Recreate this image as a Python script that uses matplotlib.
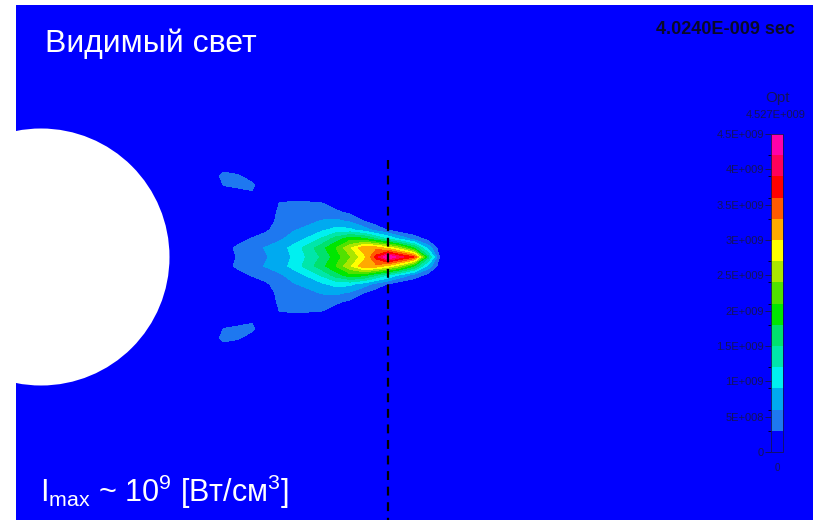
import numpy as np
import matplotlib
matplotlib.use("Agg")
import matplotlib.pyplot as plt
from matplotlib.colors import ListedColormap, BoundaryNorm
from matplotlib.patches import Circle
import matplotlib.colorbar as mcolorbar

plt.rcParams["font.family"] = ["Liberation Sans", "DejaVu Sans"]
plt.rcParams["mathtext.fontset"] = "custom"
plt.rcParams["mathtext.rm"] = "Liberation Sans"
plt.rcParams["mathtext.it"] = "Liberation Sans"
plt.rcParams["mathtext.default"] = "regular"

# --- intensity field (units of 1e9), upper half of the axisymmetric plume ---
x_cols = [210, 224, 238, 252, 266, 280, 294, 308, 322, 336, 350, 364, 376, 388, 400, 414, 428, 442]
r_rows = [0, 9, 18, 27, 36, 45, 54, 63, 72, 81, 90]
# rows: distance from axis; columns: position along axis
intensity_half = np.array([
    # 210  224   238   252   266   280   294   308   322   336   350   364   376   388   400   414   428   442
    [0.0, 0.10, 0.33, 0.48, 0.58, 0.72, 0.95, 1.25, 1.55, 1.95, 2.35, 2.85, 3.70, 4.52, 4.00, 3.60, 1.60, 0.00],  # 0
    [0.0, 0.15, 0.38, 0.50, 0.62, 0.78, 1.00, 1.35, 1.70, 2.10, 2.65, 3.25, 3.20, 2.90, 2.50, 1.80, 0.80, 0.00],  # 9
    [0.0, 0.05, 0.15, 0.33, 0.45, 0.55, 0.75, 0.95, 1.25, 1.65, 2.00, 1.90, 1.55, 1.20, 0.85, 0.50, 0.20, 0.00],  # 18
    [0.0, 0.00, 0.00, 0.10, 0.25, 0.45, 0.58, 0.68, 0.85, 1.00, 0.98, 0.75, 0.50, 0.28, 0.10, 0.00, 0.00, 0.00],  # 27
    [0.0, 0.00, 0.00, 0.00, 0.10, 0.42, 0.48, 0.52, 0.62, 0.66, 0.55, 0.30, 0.12, 0.00, 0.00, 0.00, 0.00, 0.00],  # 36
    [0.0, 0.00, 0.00, 0.00, 0.05, 0.38, 0.42, 0.42, 0.42, 0.36, 0.22, 0.05, 0.00, 0.00, 0.00, 0.00, 0.00, 0.00],  # 45
    [0.0, 0.00, 0.00, 0.00, 0.00, 0.32, 0.33, 0.33, 0.30, 0.12, 0.00, 0.00, 0.00, 0.00, 0.00, 0.00, 0.00, 0.00],  # 54
    [0.0, 0.00, 0.05, 0.25, 0.00, 0.10, 0.10, 0.08, 0.05, 0.00, 0.00, 0.00, 0.00, 0.00, 0.00, 0.00, 0.00, 0.00],  # 63
    [0.0, 0.32, 0.42, 0.38, 0.00, 0.00, 0.00, 0.00, 0.00, 0.00, 0.00, 0.00, 0.00, 0.00, 0.00, 0.00, 0.00, 0.00],  # 72
    [0.0, 0.45, 0.35, 0.10, 0.00, 0.00, 0.00, 0.00, 0.00, 0.00, 0.00, 0.00, 0.00, 0.00, 0.00, 0.00, 0.00, 0.00],  # 81
    [0.0, 0.10, 0.00, 0.00, 0.00, 0.00, 0.00, 0.00, 0.00, 0.00, 0.00, 0.00, 0.00, 0.00, 0.00, 0.00, 0.00, 0.00],  # 90
])
axis_y = 257

# contour levels and band colours (bottom band = background)
levels = list(np.round(np.arange(0, 4.5001, 0.3), 2))
band_colors = ["#0000FF", "#1E78F0", "#00AAF0", "#00F0F0", "#00E6AA", "#00E16E",
               "#00E600", "#50E100", "#AAE600", "#FFFF00", "#FFAA00", "#FF5A00",
               "#FF0000", "#FF005A", "#FF00AA"]
cbar_ticks = [0, 0.5, 1.0, 1.5, 2.0, 2.5, 3.0, 3.5, 4.0, 4.5]
cbar_ticklabels = ["0", "5E+008", "1E+009", "1.5E+009", "2E+009", "2.5E+009",
                   "3E+009", "3.5E+009", "4E+009", "4.5E+009"]

# body (sphere section) and probe line
body_center = (41, 257)
body_radius = 128.5
probe_x = 388

# --- figure ---
W, H = 813, 520
fig = plt.figure(figsize=(W / 100, H / 100), dpi=100, facecolor="white")
ax = fig.add_axes([16 / W, 0, (W - 16) / W, 515 / H])
ax.set_facecolor("#0000FF")
ax.set_xlim(16, W)
ax.set_ylim(H, 5)
ax.set_aspect("auto")
ax.axis("off")
ax.add_patch(plt.Rectangle((16, 5), W - 16, H - 5, color="#0000FF", zorder=0))

cmap = ListedColormap(band_colors)
cmap.set_over(band_colors[-1])
norm = BoundaryNorm(levels, cmap.N)

offsets = np.array(r_rows, dtype=float)
y_full = np.concatenate([axis_y - offsets[::-1], axis_y + offsets[1:]])
z_full = np.vstack([intensity_half[::-1], intensity_half[1:]])
X, Y = np.meshgrid(np.array(x_cols, dtype=float), y_full)
ax.contourf(X, Y, z_full, levels=levels, cmap=cmap, norm=norm, extend="max", zorder=1)

ax.add_patch(Circle(body_center, body_radius, facecolor="white", edgecolor="none", zorder=3))
ax.plot([probe_x, probe_x], [160, H], color="black", lw=1.6, ls=(0, (4, 3)), zorder=4)

# texts
fig.text(45 / W, 1 - 44 / H, "Видимый свет", color="white", fontsize=23, va="center", ha="left")
fig.text(40 / W, 1 - 492 / H, r"I$_{max}$ ~ 10$^{9}$ [Вт/см$^{3}$]", color="white",
         fontsize=22, va="center", ha="left")
fig.text(795 / W, 1 - 30 / H, "4.0240E-009 sec", color="#0a0a28", fontsize=13,
         fontweight="bold", va="center", ha="right")
label_color = "#14145a"
fig.text(777 / W, 1 - 98 / H, "Opt", color=label_color, fontsize=11, va="center", ha="center")
fig.text(776 / W, 1 - 115 / H, "4.527E+009", color=label_color, fontsize=8, va="center", ha="center")
fig.text(777 / W, 1 - 468 / H, "0", color=label_color, fontsize=7, va="center", ha="center")

# colour bar
cax = fig.add_axes([771 / W, 1 - 452 / H, 12 / W, 318 / H])
cb = mcolorbar.ColorbarBase(cax, cmap=cmap, norm=norm, boundaries=levels,
                            ticks=cbar_ticks, orientation="vertical", spacing="proportional")
cb.outline.set_edgecolor(label_color)
cb.outline.set_linewidth(0.6)
cax.yaxis.set_ticks_position("left")
cax.set_yticklabels(cbar_ticklabels)
cax.tick_params(axis="y", colors=label_color, labelsize=8, length=4, width=0.7, pad=1)

fig.savefig("out.png", dpi=100, facecolor="white")
